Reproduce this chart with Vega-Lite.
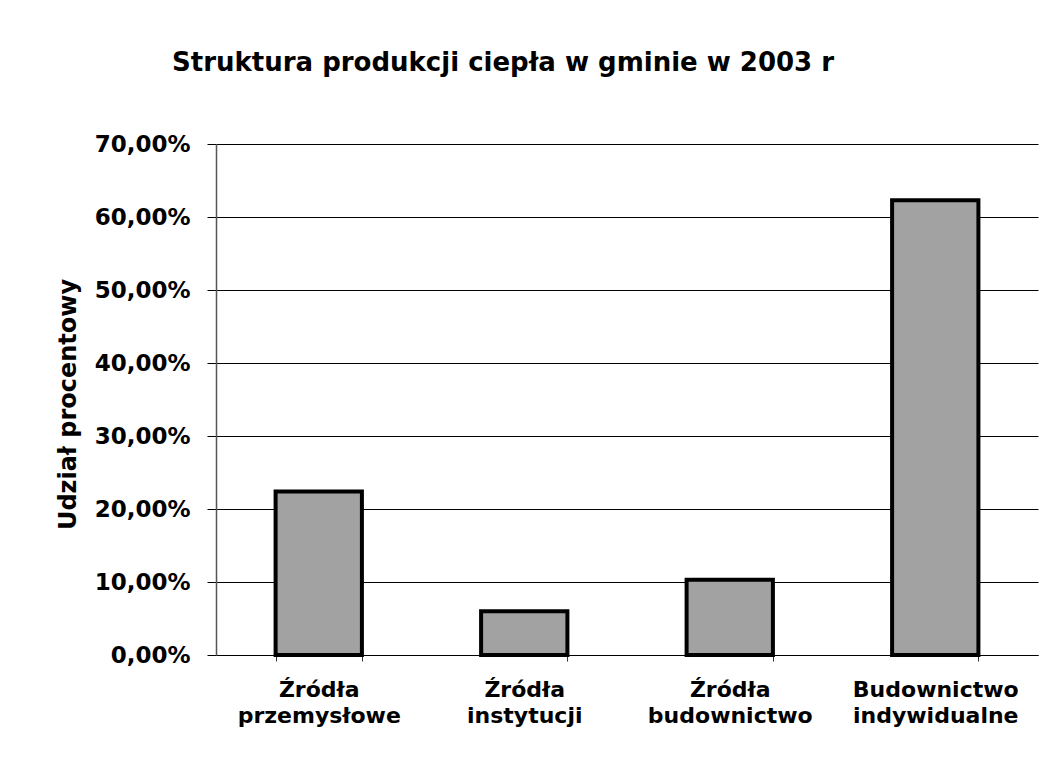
{
  "$schema": "https://vega.github.io/schema/vega-lite/v6.json",
  "autosize": "none",
  "width": 822,
  "height": 511,
  "padding": {"left": 216, "top": 144, "right": 11, "bottom": 116},
  "background": "white",
  "title": {
    "text": "Struktura produkcji ciepła w gminie w 2003 r",
    "font": "DejaVu Sans",
    "fontWeight": "bold",
    "fontSize": 26,
    "color": "black",
    "anchor": "start",
    "frame": "group",
    "dx": -44,
    "baseline": "alphabetic",
    "offset": 36
  },
  "data": {
    "values": [
      {"kategoria": "Źródła przemysłowe", "udzial": 0.224},
      {"kategoria": "Źródła instytucji", "udzial": 0.060},
      {"kategoria": "Źródła budownictwo", "udzial": 0.103},
      {"kategoria": "Budownictwo indywidualne", "udzial": 0.623}
    ]
  },
  "mark": {"type": "bar", "fill": "#a2a2a2", "stroke": "black", "strokeWidth": 4},
  "encoding": {
    "x": {
      "field": "kategoria",
      "type": "nominal",
      "sort": null,
      "scale": {"paddingInner": 0.58, "paddingOuter": 0.29},
      "axis": {
        "title": null,
        "labelAngle": 0,
        "labelExpr": "split(datum.label, ' ')",
        "labelFont": "DejaVu Sans",
        "labelFontWeight": "bold",
        "labelFontSize": 22,
        "labelLineHeight": 26,
        "labelColor": "black",
        "labelPadding": 18,
        "tickBand": "extent",
        "tickSize": 6,
        "tickColor": "#333",
        "domainColor": "black",
        "domainWidth": 1
      }
    },
    "y": {
      "field": "udzial",
      "type": "quantitative",
      "scale": {"domain": [0, 0.7], "nice": false},
      "axis": {
        "title": "Udział procentowy",
        "titleFont": "DejaVu Sans",
        "titleFontWeight": "bold",
        "titleFontSize": 24,
        "titleColor": "black",
        "titleAngle": -90,
        "titleAlign": "center",
        "titleBaseline": "alphabetic",
        "titleX": -141,
        "titleY": 260,
        "values": [0, 0.1, 0.2, 0.3, 0.4, 0.5, 0.6, 0.7],
        "labelExpr": "replace(format(datum.value, '.2%'), '.', ',')",
        "labelFont": "DejaVu Sans",
        "labelFontWeight": "bold",
        "labelFontSize": 23,
        "labelColor": "black",
        "labelPadding": 17,
        "tickSize": 9,
        "tickColor": "black",
        "grid": true,
        "gridColor": "black",
        "gridWidth": 1,
        "gridOpacity": 1,
        "domainColor": "#555",
        "domainWidth": 1.5
      }
    }
  },
  "config": {
    "view": {"stroke": null}
  }
}
